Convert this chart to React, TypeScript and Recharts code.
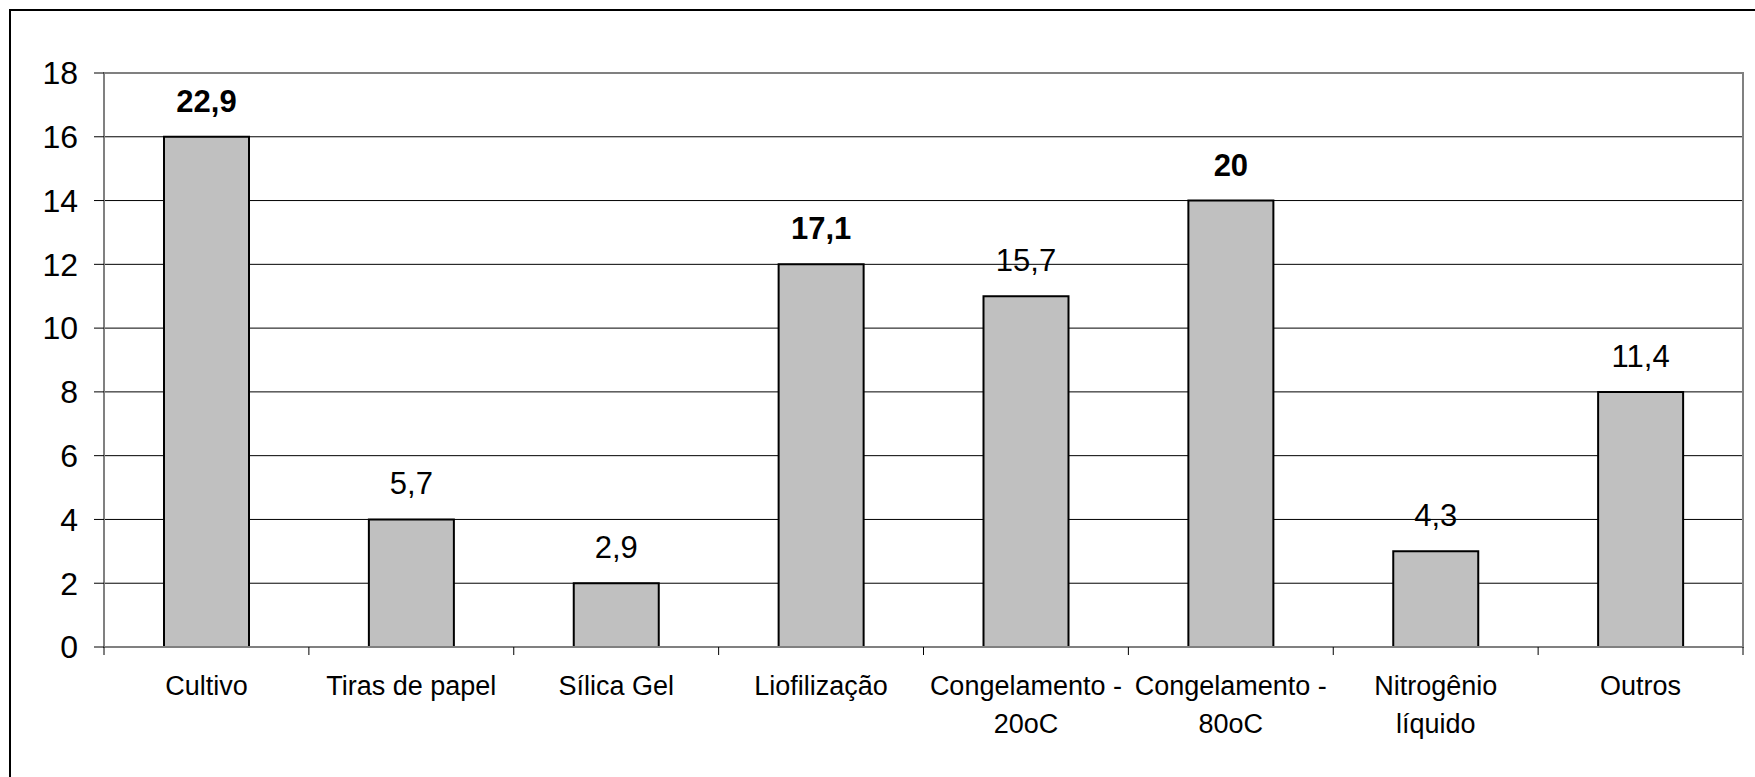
import { BarChart, Bar, XAxis, YAxis, CartesianGrid, ReferenceArea, LabelList } from "recharts";

const categories = [
  "Cultivo",
  "Tiras de papel",
  "Sílica Gel",
  "Liofilização",
  "Congelamento -\n20oC",
  "Congelamento -\n80oC",
  "Nitrogênio\nlíquido",
  "Outros",
];
const counts = [16, 4, 2, 12, 11, 14, 3, 8];
const percentLabels = ["22,9", "5,7", "2,9", "17,1", "15,7", "20", "4,3", "11,4"];
const boldLabels = [true, false, false, true, false, true, false, false];
const yTicks = [0, 2, 4, 6, 8, 10, 12, 14, 16, 18];

const data = categories.map((name, i) => ({
  name,
  count: counts[i],
  label: percentLabels[i],
  bold: boldLabels[i],
}));

const FONT = '"Liberation Sans", Arial, sans-serif';

const CategoryTick = (props: any) => {
  const { x, y, payload, index, visibleTicksCount } = props;
  const half = payload?.offset ?? 0;
  const lines = String(payload.value).split("\n");
  return (
    <g>
      <line x1={x - half} y1={y} x2={x - half} y2={y + 8} stroke="#000" strokeWidth={1} />
      {index === visibleTicksCount - 1 && (
        <line x1={x + half} y1={y} x2={x + half} y2={y + 8} stroke="#000" strokeWidth={1} />
      )}
      <text x={x} y={y + 48} textAnchor="middle" fontSize={27} fill="#000" fontFamily={FONT}>
        {lines.map((l, i) => (
          <tspan key={i} x={x} dy={i === 0 ? 0 : 38}>
            {l}
          </tspan>
        ))}
      </text>
    </g>
  );
};

const ValueLabel = (props: any) => {
  const { x, y, width, index } = props;
  return (
    <text
      x={x + width / 2}
      y={y - 25}
      textAnchor="middle"
      fontSize={31}
      fontWeight={boldLabels[index] ? "bold" : "normal"}
      fill="#000"
      fontFamily={FONT}
    >
      {percentLabels[index]}
    </text>
  );
};

export default function App() {
  return (
    <div
      style={{
        position: "fixed",
        left: 0,
        top: 0,
        width: 1755,
        height: 777,
        overflow: "hidden",
        background: "#fff",
        fontFamily: FONT,
      }}
    >
      <div
        style={{
          position: "absolute",
          left: 9,
          top: 9,
          width: 1800,
          height: 800,
          border: "2px solid #000",
        }}
      />
      <div style={{ position: "absolute", left: 0, top: 0 }}>
        <BarChart
          width={1755}
          height={777}
          data={data}
          margin={{ top: 73, right: 12, bottom: 30, left: 44 }}
        >
          <CartesianGrid vertical={false} stroke="#000" strokeWidth={1} />
          <ReferenceArea y1={0} y2={18} fill="none" stroke="#808080" strokeWidth={2} />
          <XAxis
            dataKey="name"
            interval={0}
            height={100}
            tickLine={false}
            tickSize={0}
            tickMargin={0}
            axisLine={{ stroke: "#808080", strokeWidth: 2 }}
            tick={<CategoryTick />}
          />
          <YAxis
            domain={[0, 18]}
            ticks={yTicks}
            width={60}
            tickSize={10}
            tickMargin={16}
            tickLine={{ stroke: "#000" }}
            axisLine={{ stroke: "#808080", strokeWidth: 2 }}
            tick={{ fontSize: 32, fill: "#000", fontFamily: FONT }}
          />
          <Bar
            dataKey="count"
            barSize={85}
            fill="#C0C0C0"
            stroke="#000"
            strokeWidth={2}
            isAnimationActive={false}
          >
            <LabelList dataKey="label" content={<ValueLabel />} />
          </Bar>
        </BarChart>
      </div>
    </div>
  );
}
